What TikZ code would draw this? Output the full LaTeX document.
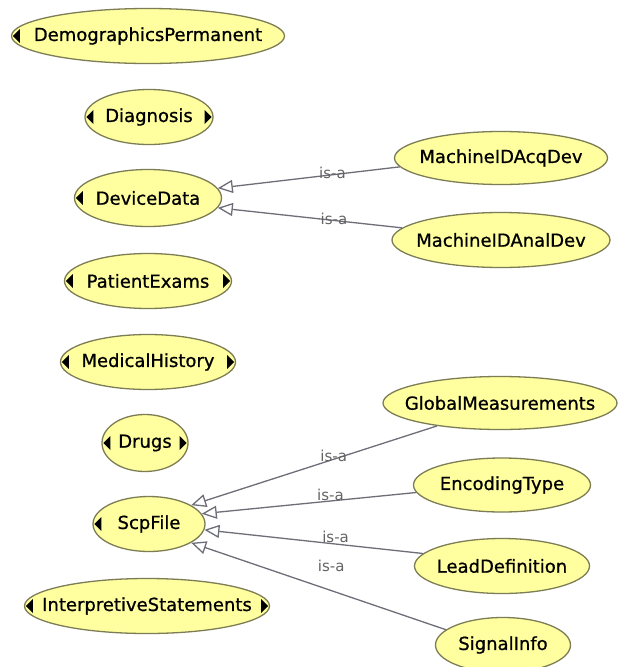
\documentclass[tikz,border=0pt]{standalone}
\usepackage{fontspec}
\setmainfont{DejaVu Sans}
\newfontfamily\nodefont[FakeBold=0.8]{DejaVu Sans}
\usetikzlibrary{shapes.geometric,arrows.meta}
\definecolor{nodefill}{RGB}{255,255,160}
\definecolor{nodeline}{RGB}{125,125,85}
\definecolor{edgegray}{RGB}{110,110,120}
\definecolor{lblgray}{RGB}{100,100,100}
\newcommand{\lmark}[1]{\fill[black] ([xshift=2pt]#1.west) -- ([xshift=9pt,yshift=7pt]#1.west) -- ([xshift=9pt,yshift=-7pt]#1.west) -- cycle;}
\newcommand{\rmark}[1]{\fill[black] ([xshift=-2pt]#1.east) -- ([xshift=-9pt,yshift=7pt]#1.east) -- ([xshift=-9pt,yshift=-7pt]#1.east) -- cycle;}
\begin{document}
\begin{tikzpicture}[x=1pt,y=-1pt,
  cls/.style={ellipse, draw=nodeline, fill=nodefill, line width=1.3pt, inner sep=0pt,
    font=\nodefont\fontsize{18}{21}\selectfont},
  isa/.style={draw=edgegray, line width=1.3pt,
    -{Triangle[open, length=15pt, width=13pt, fill=white]}},
  lbl/.style={text=lblgray, font=\fontsize{15}{17}\selectfont, inner sep=0pt}]
\fill[white] (0,0) rectangle (619,667);
\useasboundingbox (0,0) rectangle (619,667);

\node[cls, minimum width=273pt, minimum height=55pt] (dp) at (148,36) {\makebox[0pt]{DemographicsPermanent}};
\node[cls, minimum width=128pt, minimum height=55pt] (dg) at (149,117) {\makebox[0pt]{Diagnosis}};
\node[cls, minimum width=147pt, minimum height=57pt] (dd) at (148,198) {\makebox[0pt]{DeviceData}};
\node[cls, minimum width=167pt, minimum height=55pt] (pe) at (148,281) {\makebox[0pt]{PatientExams}};
\node[cls, minimum width=175pt, minimum height=55pt] (mh) at (148,362) {\makebox[0pt]{MedicalHistory}};
\node[cls, minimum width=86pt, minimum height=57pt] (dr) at (145,443) {\makebox[0pt]{Drugs}};
\node[cls, minimum width=112pt, minimum height=55pt] (sf) at (149,524) {\makebox[0pt]{ScpFile}};
\node[cls, minimum width=245pt, minimum height=55pt] (is) at (147,606) {\makebox[0pt]{InterpretiveStatements}};

\node[cls, minimum width=213pt, minimum height=53pt] (ma) at (501,158) {\makebox[0pt]{MachineIDAcqDev}};
\node[cls, minimum width=218pt, minimum height=55pt] (mn) at (501,240) {\makebox[0pt]{MachineIDAnalDev}};
\node[cls, minimum width=234pt, minimum height=53pt] (gm) at (500,403) {\makebox[0pt]{GlobalMeasurements}};
\node[cls, minimum width=177pt, minimum height=54pt] (et) at (502,485) {\makebox[0pt]{EncodingType}};
\node[cls, minimum width=175pt, minimum height=55pt] (ld) at (502,566) {\makebox[0pt]{LeadDefinition}};
\node[cls, minimum width=135pt, minimum height=55pt] (si) at (503,645) {\makebox[0pt]{SignalInfo}};

\lmark{dp}
\lmark{dg}\rmark{dg}
\lmark{dd}
\lmark{pe}\rmark{pe}
\lmark{mh}\rmark{mh}
\lmark{dr}\rmark{dr}
\lmark{sf}
\lmark{is}\rmark{is}

\draw[isa] (ma.185) -- node[lbl, pos=0.37, yshift=2pt] {is-a} (dd.8);
\draw[isa] (mn.173) -- node[lbl, pos=0.37, yshift=2pt] {is-a} (dd.-8);
\draw[isa] (gm.200) -- node[lbl, pos=0.42, yshift=3pt] {is-a} (sf.24);
\draw[isa] (et.185) -- node[lbl, pos=0.40, yshift=6pt] {is-a} (sf.11);
\draw[isa] (ld.171) -- node[lbl, pos=0.40, yshift=7pt] {is-a} (sf.-6);
\draw[isa] (si.165) -- node[lbl, pos=0.45, yshift=25pt] {is-a} (sf.-24);
\end{tikzpicture}
\end{document}
